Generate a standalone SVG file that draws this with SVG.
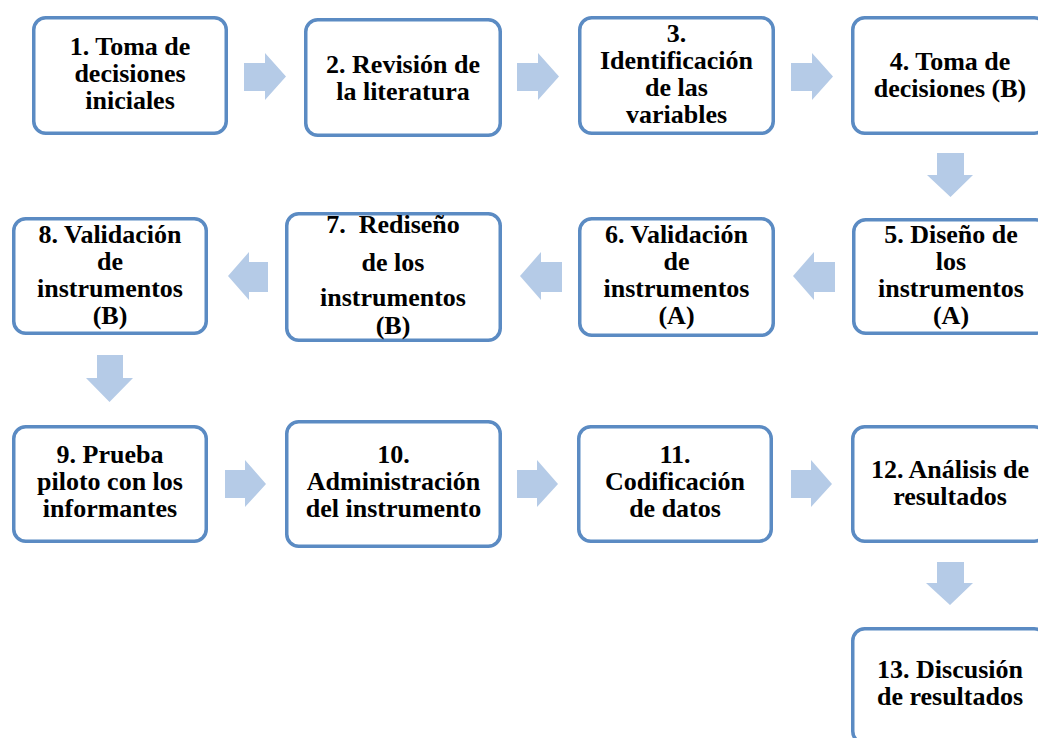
<svg xmlns="http://www.w3.org/2000/svg" width="1038" height="738" viewBox="0 0 1038 738">
<style>
.box{fill:#ffffff;stroke:#5B8BC3;stroke-width:3.5}
.arr{fill:#B5CBE7}
</style>
<rect width="1038" height="738" fill="#ffffff"/>
<g id="connectors">
<path class="arr" d="M244,63 H265 V53 L286,76.5 L265,100 V91 H244 Z"/>
<path class="arr" d="M517,63 H538 V53 L559,76.5 L538,100 V91 H517 Z"/>
<path class="arr" d="M791,63 H812 V53 L833,76.5 L812,100 V91 H791 Z"/>
<path class="arr" d="M937,153 H964 V175 H973 L950.5,197 L927,175 H937 Z"/>
<path class="arr" d="M835,262 H814 V252 L793,276 L814,300 V292 H835 Z"/>
<path class="arr" d="M562,262 H541 V252 L520,276 L541,300 V292 H562 Z"/>
<path class="arr" d="M268,262 H249 V252 L228,276 L249,300 V292 H268 Z"/>
<path class="arr" d="M97,355 H123 V378 H133 L109.5,402 L86,378 H97 Z"/>
<path class="arr" d="M225,470 H245 V460 L266,484 L245,507 V498 H225 Z"/>
<path class="arr" d="M517,470 H537 V460 L558,484 L537,507 V498 H517 Z"/>
<path class="arr" d="M791,470 H811 V460 L832,484 L811,507 V498 H791 Z"/>
<path class="arr" d="M937,562 H964 V583 H973 L950,605 L926,583 H937 Z"/>
</g>
<g font-family="Liberation Serif, Times New Roman, serif" font-weight="bold" font-size="26" fill="#000000" text-anchor="middle">
<g id="n1"><rect class="box" x="33.75" y="17.75" width="192.5" height="115.5" rx="12"/>
<text x="130" y="55">1. Toma de</text><text x="130" y="82">decisiones</text><text x="130" y="109">iniciales</text></g>
<g id="n2"><rect class="box" x="305.75" y="19.75" width="194.5" height="115.5" rx="12"/>
<text x="403" y="73">2. Revisión de</text><text x="403" y="100">la literatura</text></g>
<g id="n3"><rect class="box" x="579.75" y="17.75" width="193.5" height="115.5" rx="12"/>
<text x="676.5" y="42">3.</text><text x="676.5" y="69">Identificación</text><text x="676.5" y="96">de las</text><text x="676.5" y="123">variables</text></g>
<g id="n4"><rect class="box" x="852.75" y="17.75" width="193.5" height="115.5" rx="12"/>
<text x="950" y="70">4. Toma de</text><text x="950" y="97">decisiones (B)</text></g>
<g id="n5"><rect class="box" x="853.75" y="219.75" width="193.5" height="113.5" rx="12"/>
<text x="951" y="243">5. Diseño de</text><text x="951" y="270">los</text><text x="951" y="297">instrumentos</text><text x="951" y="324">(A)</text></g>
<g id="n6"><rect class="box" x="579.75" y="218.75" width="193.5" height="116.5" rx="12"/>
<text x="676.5" y="243">6. Validación</text><text x="676.5" y="270">de</text><text x="676.5" y="297">instrumentos</text><text x="676.5" y="324">(A)</text></g>
<g id="n7"><rect class="box" x="286.75" y="213.75" width="213.5" height="126.5" rx="12"/>
<text x="393" y="233" xml:space="preserve">7.  Rediseño</text><text x="393" y="271">de los</text><text x="393" y="306">instrumentos</text><text x="393" y="334">(B)</text></g>
<g id="n8"><rect class="box" x="13.75" y="218.75" width="192.5" height="114.5" rx="12"/>
<text x="110" y="243">8. Validación</text><text x="110" y="270">de</text><text x="110" y="297">instrumentos</text><text x="110" y="324">(B)</text></g>
<g id="n9"><rect class="box" x="13.75" y="426.75" width="192.5" height="114.5" rx="12"/>
<text x="110" y="463">9. Prueba</text><text x="110" y="490">piloto con los</text><text x="110" y="517">informantes</text></g>
<g id="n10"><rect class="box" x="286.75" y="421.75" width="213.5" height="124.5" rx="12"/>
<text x="393.5" y="463">10.</text><text x="393.5" y="490">Administración</text><text x="393.5" y="517">del instrumento</text></g>
<g id="n11"><rect class="box" x="578.75" y="426.75" width="192.5" height="114.5" rx="12"/>
<text x="675" y="463">11.</text><text x="675" y="490">Codificación</text><text x="675" y="517">de datos</text></g>
<g id="n12"><rect class="box" x="852.75" y="426.75" width="193.5" height="114.5" rx="12"/>
<text x="950" y="478">12. Análisis de</text><text x="950" y="505">resultados</text></g>
<g id="n13"><rect class="box" x="852.75" y="628.75" width="193.5" height="114.5" rx="12"/>
<text x="950" y="678">13. Discusión</text><text x="950" y="705">de resultados</text></g>
</g>
</svg>
